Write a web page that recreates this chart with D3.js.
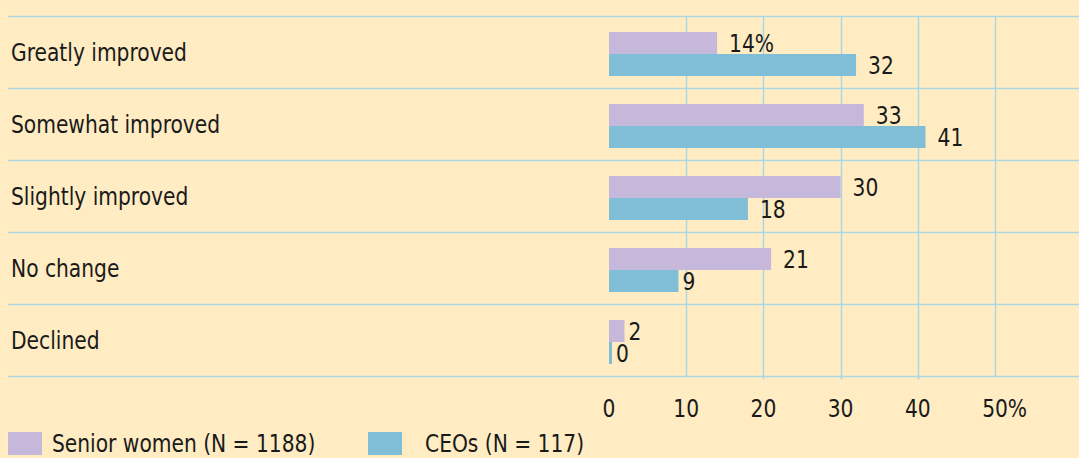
<!DOCTYPE html>
<html>
<head>
<meta charset="utf-8">
<script src="https://cdn.jsdelivr.net/npm/d3@7"></script>
<style>
  html, body { margin: 0; padding: 0; background: #ffecc2; }
  svg { display: block; }
  text { font-family: "DejaVu Sans Condensed", "DejaVu Sans", sans-serif; fill: #1a1a1a; }
</style>
</head>
<body>
<svg id="chart" width="1079" height="458"></svg>
<script>
const categories = ["Greatly improved", "Somewhat improved", "Slightly improved", "No change", "Declined"];
const seriesNames = ["Senior women (N = 1188)", "CEOs (N = 117)"];
const seniorWomen = [14, 33, 30, 21, 2];
const ceos = [32, 41, 18, 9, 0];
const tickValues = [0, 10, 20, 30, 40, 50];
const colors = ["#c5b8da", "#80bed7"];

const W = 1079, H = 458;
const SX = 0.9;   // horizontal condensing of text
const FS = 25;
const svg = d3.select("#chart");
svg.append("rect").attr("width", W).attr("height", H).attr("fill", "#ffecc2");

function label(sel, px, py, str, anchor) {
  return sel.append("text")
    .attr("transform", `translate(${px},${py}) scale(${SX},1)`)
    .attr("text-anchor", anchor || "start")
    .attr("font-size", FS)
    .text(str);
}

const x = d3.scaleLinear().domain([0, 50]).range([609, 995]);
const y = d3.scaleBand().domain(categories).range([16.5, 376.5]).paddingInner(0).paddingOuter(0);
const ySub = d3.scaleBand().domain([0, 1]).range([15.5, 59.5]);

const gridColor = "#acd6e3";

// vertical gridlines
svg.append("g").selectAll("line").data(tickValues.filter(d => d > 0)).join("line")
  .attr("x1", d => Math.round(x(d)) + 0.5).attr("x2", d => Math.round(x(d)) + 0.5)
  .attr("y1", y.range()[0]).attr("y2", y.range()[1])
  .attr("stroke", gridColor).attr("stroke-width", 1.5);

// horizontal separators
const seps = categories.map(c => y(c)).concat([y.range()[1]]);
svg.append("g").selectAll("line").data(seps).join("line")
  .attr("x1", 8).attr("x2", W)
  .attr("y1", d => d).attr("y2", d => d)
  .attr("stroke", gridColor).attr("stroke-width", 1.5);

// category labels
const catG = svg.append("g");
categories.forEach(c => label(catG, 11, y(c) + 44, c));

// bars
const rows = categories.map((c, i) => ({ c, vals: [seniorWomen[i], ceos[i]] }));
const g = svg.append("g").selectAll("g").data(rows).join("g")
  .attr("transform", d => `translate(0,${y(d.c)})`);

g.selectAll("rect").data(d => d.vals.map((v, k) => ({ v, k }))).join("rect")
  .attr("x", x(0))
  .attr("y", d => ySub(d.k))
  .attr("width", d => Math.max(3, x(d.v) - x(0)))
  .attr("height", ySub.bandwidth())
  .attr("fill", d => colors[d.k]);

g.each(function(d, i) {
  const sel = d3.select(this);
  d.vals.forEach((v, k) => {
    const px = Math.max(x(v), x(0) + 3) + (v < 10 ? 4 : 12);
    const py = ySub(k) + ySub.bandwidth() - 2;
    label(sel, px, py, v + (i === 0 && k === 0 ? "%" : ""));
  });
});

// axis tick labels
const tickG = svg.append("g");
tickValues.forEach((t, i) => {
  const num = label(tickG, x(t), 417, String(t), "middle");
  if (i === tickValues.length - 1) {
    const w = num.node().getComputedTextLength() * SX;
    label(tickG, x(t) + w / 2, 417, "%");
  }
});

// small ticks below baseline
svg.append("g").selectAll("line").data([20, 30, 40]).join("line")
  .attr("x1", d => Math.round(x(d)) + 0.5).attr("x2", d => Math.round(x(d)) + 0.5)
  .attr("y1", y.range()[1]).attr("y2", y.range()[1] + 3)
  .attr("stroke", gridColor).attr("stroke-width", 1.5);

// legend
const legendX = [8, 368];
const textX = [52, 425];
const lg = svg.append("g");
seriesNames.forEach((s, k) => {
  lg.append("rect").attr("x", legendX[k]).attr("y", 432).attr("width", 34).attr("height", 23).attr("fill", colors[k]);
  label(lg, textX[k], 452, s);
});
</script>
</body>
</html>
